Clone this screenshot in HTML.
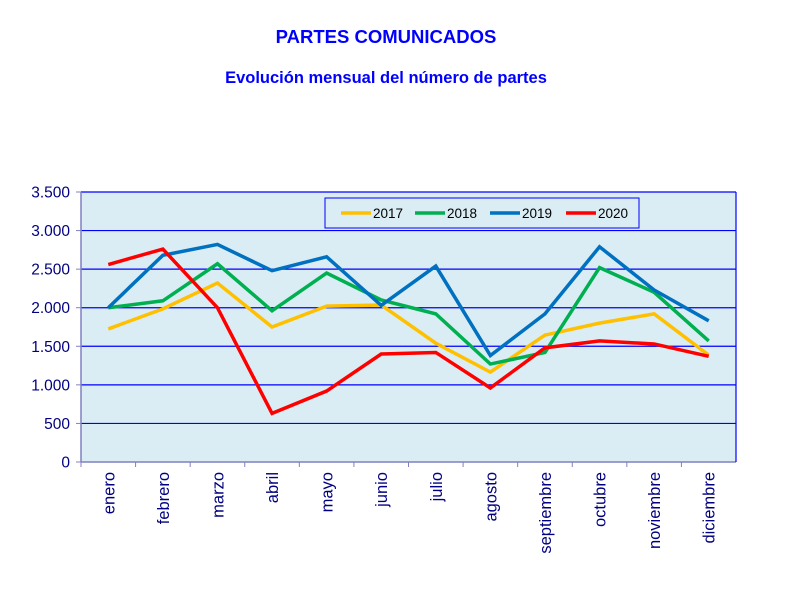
<!DOCTYPE html>
<html><head><meta charset="utf-8"><style>
body{margin:0;background:#fff;}
svg{display:block;font-family:"Liberation Sans",Arial,sans-serif;}
</style></head><body>
<svg width="787" height="591" id="c">
<text x="386" y="43" text-anchor="middle" font-size="18.5" font-weight="bold" fill="#0000ff">PARTES COMUNICADOS</text>
<text x="386" y="83" text-anchor="middle" font-size="16.5" font-weight="bold" fill="#0000ff">Evolución mensual del número de partes</text>
<rect x="81" y="192" width="655" height="270" fill="#daedf4"/>
<g id="grid"></g><g id="lines"></g>
<g>
<rect x="325" y="198" width="314" height="30" fill="#daedf4" stroke="#0000ff" stroke-width="1"/>
<g id="leg"></g></g>
</svg>
<script>
const categories=["enero","febrero","marzo","abril","mayo","junio","julio","agosto","septiembre","octubre","noviembre","diciembre"];
const s2017=[1725,1985,2320,1750,2020,2035,1540,1165,1645,1800,1920,1385];
const s2018=[2000,2090,2570,1960,2450,2100,1920,1270,1420,2520,2200,1570];
const s2019=[2000,2680,2820,2480,2660,2030,2540,1380,1920,2790,2230,1830];
const s2020=[2560,2760,2000,630,920,1400,1420,960,1480,1570,1530,1370];
const yTicks=[0,500,1000,1500,2000,2500,3000,3500];
const yTickLabels=["0","500","1.000","1.500","2.000","2.500","3.000","3.500"];
const seriesNames=["2017","2018","2019","2020"];
const series=[s2017,s2018,s2019,s2020];
const colors=["#ffc000","#00b050","#0070c0","#ff0000"];
const NS="http://www.w3.org/2000/svg";
const L=81,R=736,T=192,B=462,MAX=3500;
const x=i=>L+(i+0.5)*(R-L)/categories.length;
const y=v=>B-v/MAX*(B-T);
function mk(t,a,p){const e=document.createElementNS(NS,t);for(const k in a)e.setAttribute(k,a[k]);p.appendChild(e);return e;}
const g=document.getElementById('grid');
yTicks.forEach((v,i)=>{
 if(v>0){const ln=mk('line',{x1:L,x2:R,y1:y(v),y2:y(v),stroke:'#0000ff','stroke-width':1.2},g);
 
 }
 const tk=mk('line',{x1:L-5,x2:L,y1:y(v),y2:y(v),stroke:'#8080c0'},g);
 
 
 const t=mk('text',{x:70,y:y(v)+5.5,'text-anchor':'end','font-size':15.5,fill:'#000080'},g);
 
 
 t.textContent=yTickLabels[i];
});
const ax=mk('line',{x1:L,x2:L,y1:T,y2:B,stroke:'#8080c0','stroke-width':1.5},g);


const bx=mk('line',{x1:L,x2:R,y1:B,y2:B,stroke:'#8080c0','stroke-width':1.5},g);


const rb=mk('line',{x1:R,x2:R,y1:T,y2:B,stroke:'#0000ff','stroke-width':1.2},g);


categories.forEach((c,i)=>{
 const xx=L+i*(R-L)/categories.length;
 const tk=mk('line',{x1:xx,x2:xx,y1:B,y2:B+5,stroke:'#8080c0'},g);
 
 
 const t=mk('text',{x:0,y:0,'text-anchor':'end','font-size':16.5,fill:'#000080',transform:`translate(${x(i)+6},${B+10}) rotate(-90)`},g);
 
 
 t.textContent=c;
});
const lg=document.getElementById('lines');
series.forEach((s,k)=>{
 const p=mk('polyline',{points:s.map((v,i)=>x(i)+','+y(v)).join(' '),fill:'none',stroke:colors[k],'stroke-width':3.5,'stroke-linejoin':'miter'},lg);
 
 
});
const leg=document.getElementById('leg');
const lx=[341,415,490,566];
seriesNames.forEach((n,k)=>{
 const l=mk('line',{x1:lx[k],x2:lx[k]+30,y1:213,y2:213,stroke:colors[k],'stroke-width':3.5},leg);
 
 
 const t=mk('text',{x:lx[k]+32,y:218,'font-size':13.5,fill:'#000'},leg);
 
 
 t.textContent=n;
});
</script>
</body></html>
